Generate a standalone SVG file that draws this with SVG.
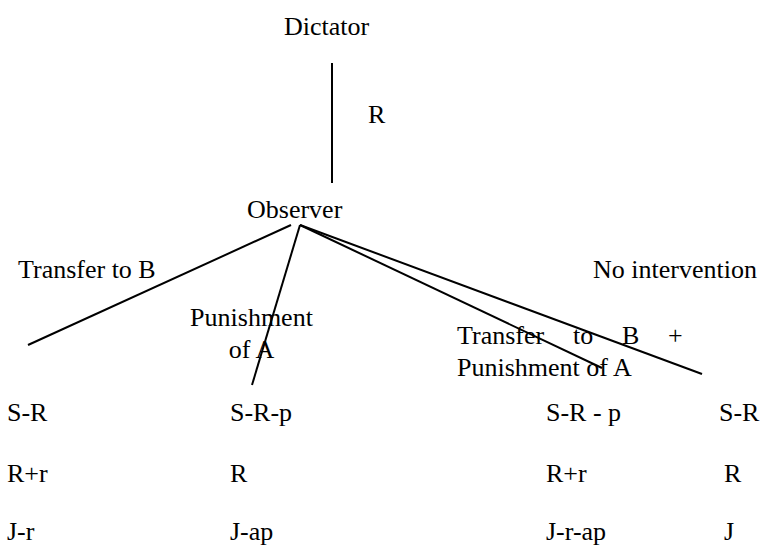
<svg xmlns="http://www.w3.org/2000/svg" width="763" height="548" viewBox="0 0 763 548">
<style>
text{font-family:"Liberation Serif","Times New Roman",serif;font-size:26px;fill:#000}
.l{stroke:#000;stroke-width:2;fill:none}
</style>
<rect width="763" height="548" fill="#fff"/>
<g id="connectors">
<line class="l" x1="332" y1="63" x2="332" y2="183"/>
<line class="l" x1="291" y1="225" x2="28" y2="345"/>
<line class="l" x1="300" y1="225" x2="252" y2="385"/>
<line class="l" x1="300" y1="225" x2="602" y2="368"/>
<line class="l" x1="300" y1="225" x2="702" y2="374"/>
</g>
<g id="dictator"><text x="284" y="35">Dictator</text></g>
<g id="label-r"><text x="368" y="123">R</text></g>
<g id="observer"><text x="247" y="218">Observer</text></g>
<g id="label-transfer"><text x="18" y="278">Transfer to B</text></g>
<g id="label-punish"><text x="251.5" y="326" text-anchor="middle">Punishment</text><text x="251.5" y="358" text-anchor="middle">of A</text></g>
<g id="label-both"><text x="457" y="344">Transfer</text><text x="573" y="344">to</text><text x="622" y="344">B</text><text x="668" y="344">+</text><text x="457" y="376">Punishment of A</text></g>
<g id="label-none"><text x="593" y="278">No intervention</text></g>
<g id="outcome-1"><text x="7" y="421">S-R</text><text x="7" y="482">R+r</text><text x="7" y="540">J-r</text></g>
<g id="outcome-2"><text x="230" y="421">S-R-p</text><text x="230" y="482">R</text><text x="230" y="540">J-ap</text></g>
<g id="outcome-3"><text x="546" y="421">S-R - p</text><text x="546" y="482">R+r</text><text x="546" y="540">J-r-ap</text></g>
<g id="outcome-4"><text x="719" y="421">S-R</text><text x="724" y="482">R</text><text x="724" y="540">J</text></g>
</svg>
